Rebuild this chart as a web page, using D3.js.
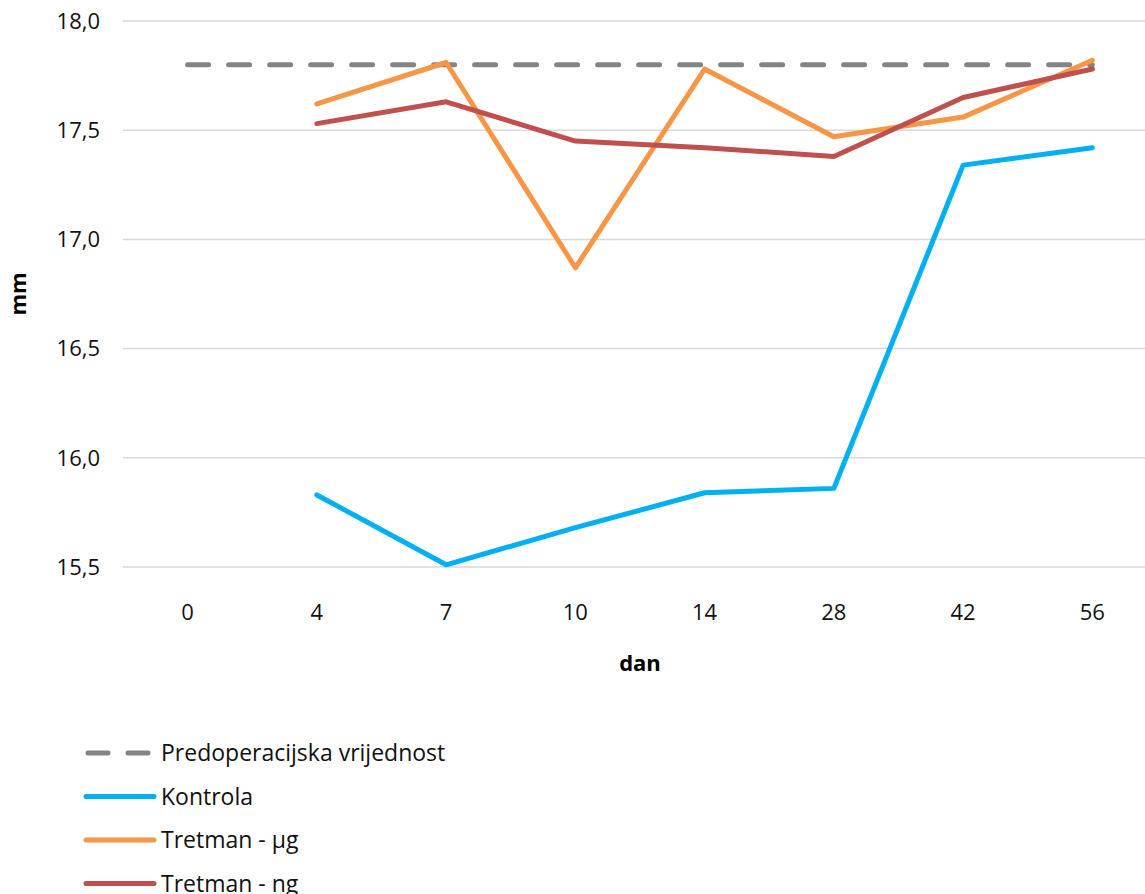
<!DOCTYPE html>
<html>
<head>
<meta charset="utf-8">
<script src="https://cdn.jsdelivr.net/npm/d3@7"></script>
<style>
  body { margin: 0; background: #fff; }
  svg { font-family: "Open Sans", "Noto Sans", sans-serif; }
</style>
</head>
<body>
<svg id="chart" width="1145" height="894"></svg>
<script>
const days = ["0", "4", "7", "10", "14", "28", "42", "56"];
const yTicks = [15.5, 16.0, 16.5, 17.0, 17.5, 18.0];

// predoperacijska vrijednost (constant reference)
const preop = [17.8, 17.8, 17.8, 17.8, 17.8, 17.8, 17.8, 17.8];
const kontrola = [null, 15.83, 15.51, 15.68, 15.84, 15.86, 17.34, 17.42];
const tretmanUg = [null, 17.62, 17.81, 16.87, 17.78, 17.47, 17.56, 17.82];
const tretmanNg = [null, 17.53, 17.63, 17.45, 17.42, 17.38, 17.65, 17.78];

const seriesNames = ["Predoperacijska vrijednost", "Kontrola", "Tretman - µg", "Tretman - ng"];
const seriesColors = ["#848484", "#00b0f0", "#f79646", "#c0504d"];

const svg = d3.select("#chart");

const x = d3.scalePoint().domain(days).range([123, 1157]).padding(0.5);
const y = d3.scaleLinear().domain([15.5, 18.0]).range([567, 21]);

// grid
svg.append("g")
  .selectAll("line")
  .data(yTicks)
  .enter()
  .append("line")
  .attr("x1", 123)
  .attr("x2", 1145)
  .attr("y1", (d) => y(d))
  .attr("y2", (d) => y(d))
  .attr("stroke", "#d9d9d9")
  .attr("stroke-width", 1.5);

// y tick labels
const fmt = (d) => d.toFixed(1).replace(".", ",");
svg.append("g")
  .selectAll("text")
  .data(yTicks)
  .enter()
  .append("text")
  .attr("x", 100)
  .attr("y", (d) => y(d))
  .attr("dy", "0.35em")
  .attr("text-anchor", "end")
  .attr("font-size", 22)
  .attr("fill", "#111")
  .text(fmt);

// x tick labels
svg.append("g")
  .selectAll("text")
  .data(days)
  .enter()
  .append("text")
  .attr("x", (d) => x(d))
  .attr("y", 612)
  .attr("dy", "0.35em")
  .attr("text-anchor", "middle")
  .attr("font-size", 22)
  .attr("fill", "#111")
  .text((d) => d);

// axis titles
svg.append("text")
  .attr("x", 640)
  .attr("y", 663)
  .attr("dy", "0.35em")
  .attr("text-anchor", "middle")
  .attr("font-size", 22)
  .attr("font-weight", "bold")
  .text("dan");

svg.append("text")
  .attr("transform", "translate(18,294) rotate(-90)")
  .attr("dy", "0.35em")
  .attr("text-anchor", "middle")
  .attr("font-size", 22)
  .attr("font-weight", "bold")
  .text("mm");

const line = d3
  .line()
  .defined((d) => d != null)
  .x((d, i) => x(days[i]))
  .y((d) => y(d));

const allSeries = [preop, kontrola, tretmanUg, tretmanNg];

svg.append("g")
  .selectAll("path")
  .data(allSeries)
  .enter()
  .append("path")
  .attr("d", (d) => line(d))
  .attr("fill", "none")
  .attr("stroke", (_, i) => seriesColors[i])
  .attr("stroke-width", 5)
  .attr("stroke-linejoin", "round")
  .attr("stroke-linecap", "round")
  .attr("stroke-dasharray", (_, i) => (i === 0 ? "21,20" : null));

// legend
const legend = svg
  .append("g")
  .selectAll("g")
  .data(seriesNames)
  .enter()
  .append("g")
  .attr("transform", (_, i) => `translate(0, ${753 + i * 43.5})`);

legend
  .append("line")
  .attr("x1", (_, i) => (i === 0 ? 88 : 86))
  .attr("x2", (_, i) => (i === 0 ? 148 : 154))
  .attr("stroke", (_, i) => seriesColors[i])
  .attr("stroke-width", 5)
  .attr("stroke-linecap", "round")
  .attr("stroke-dasharray", (_, i) => (i === 0 ? "20,20" : null));

legend
  .append("text")
  .attr("x", 161)
  .attr("dy", "0.35em")
  .attr("font-size", 23)
  .attr("fill", "#111")
  .text((d) => d);
</script>
</body>
</html>
